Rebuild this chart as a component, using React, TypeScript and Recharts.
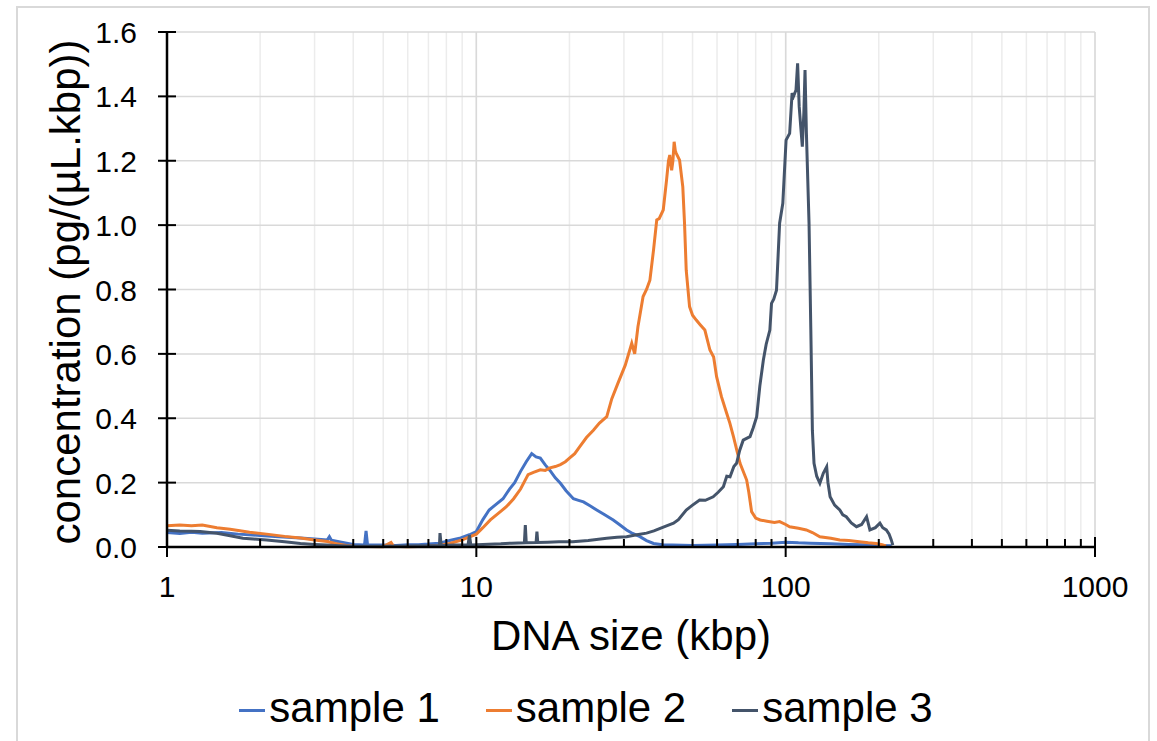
import React from "react";
import { LineChart, Line, XAxis, YAxis, CartesianGrid, ReferenceLine } from "recharts";

// sample 1 (blue)
const sample1Size = [
  1.0, 1.1, 1.2, 1.3, 1.5, 1.7, 2.0, 2.3, 2.7, 3.0, 3.3, 3.35, 3.4, 3.7, 4.0, 4.35, 4.4, 4.45,
  5, 5.5, 6, 6.5, 7, 7.6, 8.2, 8.9, 9.5, 10, 10.5, 11, 11.5, 12.2, 12.8, 13.3, 13.9, 14.5, 15.1,
  15.6, 16.1, 16.7, 17.3, 18, 18.7, 19.5, 20.6, 21.4, 22.2, 23.3, 24.5, 26, 27.7, 29, 30.6, 32,
  33.8, 35.5, 37.4, 40, 43, 50, 60, 70, 80, 90, 100, 110, 120, 140, 160, 180, 200, 220,
];
const sample1Conc = [
  0.045, 0.042, 0.046, 0.043, 0.045, 0.04, 0.036, 0.032, 0.028, 0.025, 0.022, 0.032, 0.021, 0.014, 0.008, 0.006, 0.05, 0.006,
  0.006, 0.005, 0.007, 0.007, 0.009, 0.012, 0.02, 0.028, 0.038, 0.048, 0.085, 0.115, 0.13, 0.15, 0.18, 0.2, 0.235, 0.265, 0.29,
  0.28, 0.276, 0.255, 0.238, 0.215, 0.198, 0.175, 0.15, 0.145, 0.14, 0.128, 0.115, 0.1, 0.084, 0.07, 0.053, 0.042,
  0.032, 0.02, 0.011, 0.007, 0.006, 0.005, 0.006, 0.008, 0.01, 0.012, 0.015, 0.013, 0.012, 0.01, 0.008, 0.007, 0.005, 0.004,
];

// sample 2 (orange)
const sample2Size = [
  1.0, 1.1, 1.2, 1.3, 1.45, 1.6, 1.85, 2.1, 2.4, 2.7, 3.0, 3.3, 3.5, 3.8, 4.0, 5, 5.3, 5.4, 6, 7, 7.5,
  8.2, 9, 10, 10.5, 11.1, 11.8, 12.5, 13.2, 13.9, 14.7, 15.3, 16.1, 16.7, 17.3, 18, 18.7, 19.4, 20,
  20.8, 21.6, 22.7, 23.9, 25, 26.4, 27.4, 28.7, 30.3, 31.8, 32.5, 33.3, 34.6, 35.5, 36.4, 37.4, 38.3,
  39, 40.2, 41.2, 41.8, 42.2, 42.8, 43.2, 43.6, 44, 44.3, 45.4, 46.5, 47.1, 47.7, 48.9, 50, 51.4, 53,
  54.8, 56.9, 58.5, 59.8, 62, 64.5, 66, 67.8, 71.2, 74.8, 76, 77.6, 80, 82.7, 87, 92, 95.6, 100, 103,
  110, 116.6, 122, 129, 140, 149.6, 160, 173, 185, 196, 205, 211,
];
const sample2Conc = [
  0.066, 0.068, 0.066, 0.068, 0.06, 0.055, 0.046, 0.04, 0.033, 0.028, 0.022, 0.017, 0.011, 0.005, 0.002, 0.001, 0.014, 0.002, 0.001, 0.002, 0.004,
  0.011, 0.022, 0.04, 0.06, 0.084, 0.105, 0.125, 0.15, 0.18, 0.225, 0.232, 0.24, 0.238, 0.246, 0.25, 0.256, 0.265, 0.276,
  0.29, 0.312, 0.34, 0.363, 0.385, 0.405, 0.46, 0.509, 0.565, 0.633, 0.6, 0.684, 0.778, 0.8, 0.829, 0.923, 1.016,
  1.02, 1.047, 1.14, 1.2, 1.218, 1.17, 1.2, 1.259, 1.23, 1.223, 1.202, 1.119, 1.006, 0.86, 0.747, 0.72, 0.705, 0.69,
  0.674, 0.612, 0.59, 0.529, 0.467, 0.415, 0.385, 0.343, 0.26, 0.208, 0.17, 0.11, 0.09, 0.084, 0.08, 0.076, 0.079, 0.07, 0.063,
  0.058, 0.053, 0.045, 0.032, 0.027, 0.022, 0.02, 0.016, 0.013, 0.011, 0.007, 0.003,
];

// sample 3 (dark slate)
const sample3Size = [
  1.0, 1.1, 1.2, 1.28, 1.45, 1.6, 1.76, 1.9, 2.1, 2.4, 2.7, 3.0, 3.28, 3.6, 4, 5, 6, 7, 7.6, 7.63, 7.7,
  8.5, 9.4, 9.5, 9.6, 10.5, 12, 13, 14.3, 14.4, 14.5, 15.6, 15.7, 15.8, 17, 18.5, 20.5, 23, 26.4, 28.5,
  30.6, 33, 35.5, 37.5, 39.3, 41, 43.4, 45, 47.7, 50, 52.7, 55, 58.3, 60.5, 62.9, 64.5, 66.1, 68, 69.4,
  71, 72.9, 76.7, 78.5, 80.6, 82.5, 84.7, 86.5, 88.9, 90, 91.5, 93.4, 95.6, 97.9, 100.3, 103, 104.9, 106,
  108, 109.3, 110.6, 112, 113.2, 114.5, 115.5, 116.7, 119, 120.6, 122, 123.5, 126, 129, 132.3, 135.7, 137,
  139.2, 144, 149.6, 153, 157, 163, 169.4, 176, 182.6, 187.2, 195, 201.7, 206, 211.5, 216, 219.5, 222,
];
const sample3Conc = [
  0.052, 0.05, 0.049, 0.048, 0.043, 0.035, 0.027, 0.025, 0.022, 0.016, 0.011, 0.008, 0.006, 0.004, 0.002, 0.002, 0.003, 0.004, 0.005, 0.043, 0.005,
  0.006, 0.006, 0.037, 0.006, 0.008, 0.01, 0.012, 0.013, 0.068, 0.013, 0.014, 0.048, 0.014, 0.015, 0.016, 0.016, 0.02, 0.027, 0.03,
  0.032, 0.038, 0.043, 0.05, 0.058, 0.065, 0.074, 0.085, 0.115, 0.13, 0.146, 0.145, 0.156, 0.17, 0.187, 0.22, 0.218, 0.25, 0.26,
  0.3, 0.332, 0.343, 0.37, 0.405, 0.5, 0.581, 0.63, 0.674, 0.757, 0.77, 0.798, 1.006, 1.068, 1.264, 1.285, 1.41, 1.4,
  1.42, 1.503, 1.368, 1.3, 1.244, 1.35, 1.482, 1.285, 1.006, 0.674, 0.363, 0.26, 0.22, 0.198, 0.229, 0.249, 0.2,
  0.156, 0.13, 0.115, 0.1, 0.094, 0.075, 0.063, 0.07, 0.094, 0.053, 0.06, 0.074, 0.06, 0.053, 0.04, 0.022, 0.006,
];

const seriesNames = ["sample 1", "sample 2", "sample 3"];
const seriesColors = ["#4472C4", "#ED7D31", "#44546A"];

const yTicks = [0, 0.2, 0.4, 0.6, 0.8, 1.0, 1.2, 1.4, 1.6];
const majorTicks = [1, 10, 100, 1000];
const minorTicks = [2, 3, 4, 5, 6, 7, 8, 9, 20, 30, 40, 50, 60, 70, 80, 90, 200, 300, 400, 500, 600, 700, 800, 900];
const xTicks = [...majorTicks, ...minorTicks].sort((a, b) => a - b);

const toPoints = (xs: number[], ys: number[]) => xs.map((x, i) => ({ x, y: ys[i] }));
const series = [
  toPoints(sample1Size, sample1Conc),
  toPoints(sample2Size, sample2Conc),
  toPoints(sample3Size, sample3Conc),
];

const FONT = "'Liberation Sans', Arial, sans-serif";

function XTick(props: any) {
  const { x, y, payload } = props;
  const v = payload.value;
  const major = majorTicks.includes(v);
  return (
    <g>
      <line x1={x} x2={x} y1={y - (major ? 10 : 8)} y2={major ? y + 10 : y} stroke="#000" strokeWidth={2} />
      {major && (
        <text x={x} y={y + 50} textAnchor="middle" fontSize={30} fontFamily={FONT} fill="#000">
          {v}
        </text>
      )}
    </g>
  );
}

function YTick(props: any) {
  const { x, y, payload } = props;
  return (
    <g>
      <line x1={x - 9} x2={x + 9} y1={y} y2={y} stroke="#000" strokeWidth={2} />
      <text x={x - 30} y={y + 11} textAnchor="end" fontSize={30} fontFamily={FONT} fill="#000">
        {payload.value.toFixed(1)}
      </text>
    </g>
  );
}

export default function App() {
  return (
    <div style={{ position: "absolute", left: 0, top: 0, width: 1157, height: 741, background: "#fff", overflow: "hidden" }}>
      {/* chart frame */}
      <div
        style={{
          position: "absolute", left: 16, top: 6, width: 1130, height: 740,
          borderLeft: "2px solid #d9d9d9", borderTop: "2px solid #d9d9d9", borderRight: "2px solid #d9d9d9",
        }}
      />
      <div style={{ position: "absolute", left: 0, top: 0 }}>
        <LineChart width={1157} height={741} margin={{ top: 32, right: 62, left: 16, bottom: 124 }}>
          <CartesianGrid horizontal={false} stroke="#ececec" strokeWidth={1.5} />
          <CartesianGrid vertical={false} stroke="#d9d9d9" strokeWidth={1.5} />
          {[10, 100, 1000].map((v) => (
            <ReferenceLine key={v} x={v} stroke="#d9d9d9" strokeWidth={1.5} />
          ))}
          <XAxis
            type="number"
            dataKey="x"
            scale="log"
            domain={[1, 1000]}
            ticks={xTicks}
            interval={0}
            allowDataOverflow
            height={70}
            tickSize={0}
            tickMargin={0}
            tickLine={false}
            axisLine={{ stroke: "#000", strokeWidth: 2.5 }}
            tick={<XTick />}
            label={(p: any) => (
              <text x={631} y={650} textAnchor="middle" fontSize={42} fontFamily={FONT} fill="#000">
                DNA size (kbp)
              </text>
            )}
          />
          <YAxis
            type="number"
            dataKey="y"
            domain={[0, 1.6]}
            ticks={yTicks}
            interval={0}
            width={151}
            tickSize={0}
            tickMargin={0}
            tickLine={false}
            axisLine={{ stroke: "#000", strokeWidth: 2.5 }}
            tick={<YTick />}
            label={(p: any) => (
              <text
                x={80}
                y={292}
                transform="rotate(-90 80 292)"
                textAnchor="middle"
                fontSize={42}
                fontFamily={FONT}
                fill="#000"
              >
                concentration  (pg/(µL.kbp))
              </text>
            )}
          />
          {series.map((d, i) => (
            <Line
              key={seriesNames[i]}
              data={d}
              dataKey="y"
              name={seriesNames[i]}
              type="linear"
              stroke={seriesColors[i]}
              strokeWidth={3}
              dot={false}
              activeDot={false}
              isAnimationActive={false}
            />
          ))}
        </LineChart>
      </div>
      {/* legend */}
      <div
        style={{
          position: "absolute", left: 0, width: 1172, top: 684, display: "flex", justifyContent: "center",
          gap: 46, fontFamily: FONT, fontSize: 42, color: "#000",
        }}
      >
        {seriesNames.map((n, i) => (
          <div key={n} style={{ display: "flex", alignItems: "center" }}>
            <div style={{ width: 26, height: 3, background: seriesColors[i], marginRight: 4, marginTop: 4 }} />
            <span>{n}</span>
          </div>
        ))}
      </div>
    </div>
  );
}
